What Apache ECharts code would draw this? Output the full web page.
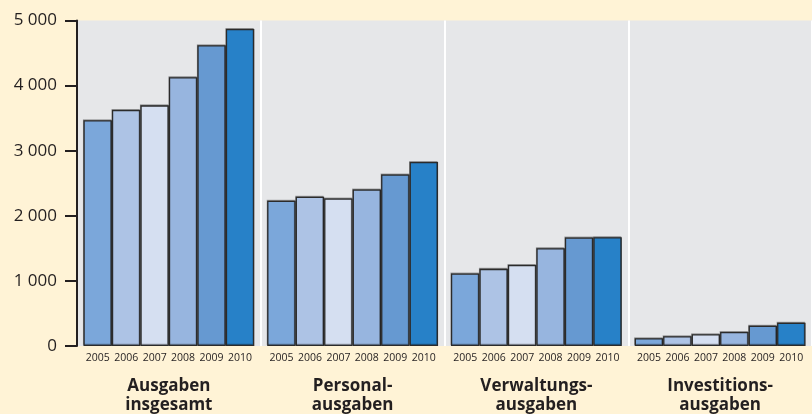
<!DOCTYPE html>
<html>
<head>
<meta charset="utf-8">
<script src="https://cdn.jsdelivr.net/npm/echarts@6/dist/echarts.min.js"></script>
<style>
html,body{margin:0;padding:0;background:#fff3d6;}
#c{width:812px;height:414px;}
</style>
</head>
<body>
<div id="c"></div>
<script>
const groups = ['Ausgaben\ninsgesamt', 'Personal-\nausgaben', 'Verwaltungs-\nausgaben', 'Investitions-\nausgaben'];
const years = ['2005', '2006', '2007', '2008', '2009', '2010'];
const v2005 = [3467, 2231, 1113, 118];
const v2006 = [3626, 2292, 1185, 149];
const v2007 = [3697, 2267, 1246, 180];
const v2008 = [4130, 2405, 1503, 215];
const v2009 = [4620, 2636, 1667, 312];
const v2010 = [4870, 2826, 1672, 358];
const yTicks = [0, 1000, 2000, 3000, 4000, 5000];
const colors = ['#7ba7da', '#adc3e5', '#d5dff1', '#97b5df', '#6699d1', '#2781c8'];
const seriesValues = [v2005, v2006, v2007, v2008, v2009, v2010];

const chart = echarts.init(document.getElementById('c'), null, {renderer: 'canvas'});
const fmt = v => String(v).replace(/\B(?=(\d{3})+(?!\d))/g, ' ');

chart.setOption({
  backgroundColor: '#fff3d6',
  animation: false,
  textStyle: {fontFamily: 'Open Sans'},
  grid: {left: 77, right: -5, top: 20.5, bottom: 68, show: true, backgroundColor: '#e6e7e9', borderWidth: 0},
  xAxis: {
    type: 'category',
    data: groups,
    axisLine: {show: false},
    axisTick: {show: false},
    splitLine: {show: true, lineStyle: {color: '#ffffff', width: 2}},
    axisLabel: {margin: 31, fontSize: 17, fontWeight: 'bold', lineHeight: 18.5, color: '#231f20', fontFamily: 'Open Sans'}
  },
  yAxis: {
    type: 'value',
    min: yTicks[0], max: yTicks[yTicks.length - 1], interval: 1000,
    axisLine: {show: true, lineStyle: {color: '#231f20', width: 2}},
    axisTick: {show: true, length: 12, lineStyle: {color: '#231f20', width: 2}},
    splitLine: {show: false},
    axisLabel: {margin: 20, fontSize: 17, color: '#231f20', fontFamily: 'Open Sans', formatter: fmt, padding: [0, 0, 8, 0]}
  },
  series: years.map((y, i) => ({
    name: y,
    type: 'bar',
    data: seriesValues[i],
    barGap: '0%',
    barCategoryGap: '7%',
    itemStyle: {
      color: colors[i], borderColor: '#2b2b2b', borderWidth: 1.3,
      shadowColor: 'rgba(0,0,0,0.3)', shadowBlur: 0, shadowOffsetX: -0.5, shadowOffsetY: -1
    },
    label: {
      show: true, position: 'bottom', distance: 7,
      formatter: p => p.seriesName,
      fontSize: 10.5, color: '#231f20', fontFamily: 'Open Sans'
    }
  }))
});
</script>
</body>
</html>
